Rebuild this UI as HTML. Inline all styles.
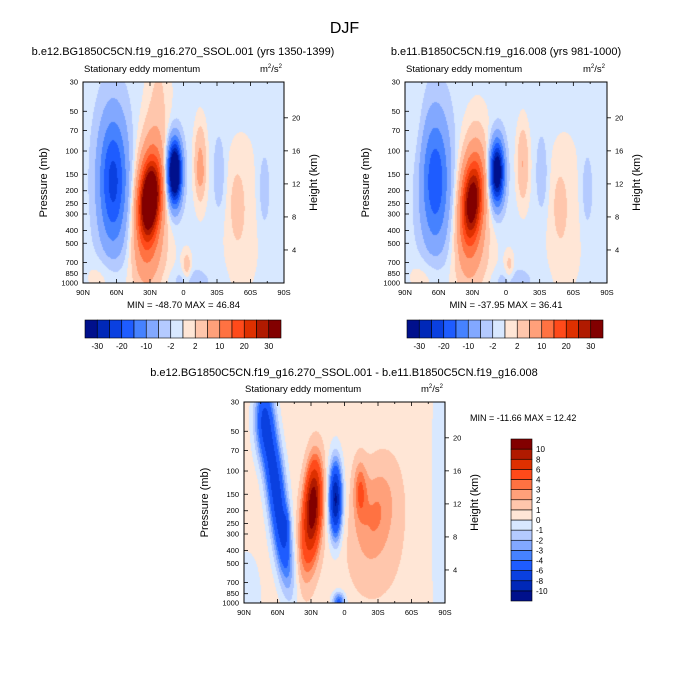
<!DOCTYPE html>
<html><head><meta charset="utf-8"><style>
body{margin:0;background:#fff;width:689px;height:688px;overflow:hidden;position:relative;font-family:"Liberation Sans",sans-serif}
canvas{position:absolute}
svg{position:absolute;left:0;top:0}
</style></head><body>
<canvas id="c1" width="201" height="201" style="left:83px;top:82px"></canvas>
<canvas id="c2" width="202" height="201" style="left:405px;top:82px"></canvas>
<canvas id="c3" width="201" height="201" style="left:244px;top:402px"></canvas>
<svg id="ov" width="689" height="688" font-family="Liberation Sans, sans-serif"></svg>
<script>
const palette=["#00108c","#0028b8","#0a40e0","#1e5cff","#4682ff","#82a8ff","#b4caff","#d8e8ff","#ffe6d6","#ffc6ac","#ffa07a","#ff7242","#ff4a1a","#de3000","#b01a00","#820000"];
const levels1=[-30,-25,-20,-15,-10,-5,-2,0,2,5,10,15,20,25,30];
const levels3=[-10,-8,-6,-4,-3,-2,-1,0,1,2,3,4,6,8,10];
const cbLabels1=["-30","-20","-10","-2","2","10","20","30"];
const cbLabels3=["-10","-8","-6","-4","-3","-2","-1","0","1","2","3","4","6","8","10"];
const pTicks=[30,50,70,100,150,200,250,300,400,500,700,850,1000];
const hTicks=[4,8,12,16,20];
const latTicks=[90,60,30,0,-30,-60,-90];
// blobs: [lat, pressure(mb), amplitude, sigmaLat, sigmaLnP, tilt]
const blobs1=[[63,170,-21,9,0.8,0],[30,230,35,6,0.42,-3],[31,250,16,9,0.85,-3],[8,145,-50,4.2,0.36,0],[-15,125,7,4,0.5,0],[-15,150,4,1.8,0.12,0],[-32,150,-4,3.5,0.45,0],[-48,260,3,4,0.4,0],[-72,200,-3,4,0.5,0],[-52,300,2.3,14,1.1,0],[-3,760,5,3,0.2,0],[-5,960,-3,12,0.15,0],[22,30,2.5,8,0.7,0],[25,650,3,12,0.6,0],[70,900,2.5,12,0.25,0]];
const base1=-1;
const blobs2=[[63,170,-18,9,0.8,0],[30,240,26,6,0.45,-3],[31,250,12,9,0.85,-3],[8,145,-40,4.2,0.36,0],[-15,125,6,4,0.5,0],[-32,150,-4,3.5,0.45,0],[-48,260,2.5,4,0.4,0],[-72,200,-3,4,0.5,0],[-52,300,2.3,14,1.1,0],[-3,760,4,3,0.2,0],[-5,960,-3,12,0.15,0],[80,60,1.5,6,0.8,0],[25,650,3,12,0.6,0],[70,900,2.5,12,0.25,0]];
const base2=-1;
const blobs3=[[72,40,-5.5,6,0.45,0],[64,90,-6,6,0.6,5],[56,300,-6.5,6,0.7,6],[52,260,-2,2,0.2,0],[28,170,9,5,0.5,-2],[32,300,4,7,0.6,-4],[8,165,-11,4,0.45,0],[-14,140,3,4,0.35,0],[-28,210,2.2,12,0.6,-6],[-30,400,0.6,25,1.0,0],[5,980,-5,4,0.12,0],[-85,200,-1.5,5,2.0,0],[88,900,-1.2,10,0.6,0]];
const base3=0.5;

const LNP=Math.log(1000/30);
function field(blobs,base,lat,z){let v=base;for(const b of blobs){const zc=Math.log(1000/b[1]);const lc=b[0]+b[5]*(z-zc);const dx=(lat-lc)/b[3],dz=(z-zc)/b[4];v+=b[2]*Math.exp(-0.5*(dx*dx+dz*dz));}return v;}
function draw(id,blobs,base,levels){const c=document.getElementById(id),ctx=c.getContext('2d');const W=c.width,H=c.height;for(let px=0;px<W;px++)for(let py=0;py<H;py++){const lat=90-180*(px+0.5)/W,z=LNP*(1-(py+0.5)/H);const v=field(blobs,base,lat,z);let k=0;while(k<levels.length&&v>=levels[k])k++;ctx.fillStyle=palette[k];ctx.fillRect(px,py,1,1);}}
draw('c1',blobs1,base1,levels1);draw('c2',blobs2,base2,levels1);draw('c3',blobs3,base3,levels3);

const ov=document.getElementById('ov');const NS='http://www.w3.org/2000/svg';
function el(t,a,txt){const e=document.createElementNS(NS,t);for(const k in a)e.setAttribute(k,a[k]);if(txt!==undefined)e.textContent=txt;ov.appendChild(e);return e;}
function text(x,y,s,size,anchor,name,rot){const a={x:x,y:y,'font-size':size,'text-anchor':anchor||'start',fill:'#000'};if(rot)a.transform='rotate(-90 '+x+' '+y+')';const e=el('text',a,s);return e;}
function panel(X,Y,W,H,pref,title,titleX,titleY,minmax){
  const f=el('rect',{x:X,y:Y,width:W,height:H,fill:'none',stroke:'#000','stroke-width':1});
  
  text(titleX,titleY,title,11,'middle',pref+'-title');
  text(X+1,Y-10,'Stationary eddy momentum',9.5,'start',pref+'-subtitle');
  const u=text(X+W-2,Y-10,'',9.5,'end',pref+'-units');
  const t1=document.createElementNS(NS,'tspan');t1.textContent='m';u.appendChild(t1);const t2=document.createElementNS(NS,'tspan');t2.setAttribute('font-size','6');t2.setAttribute('dy','-4');t2.textContent='2';u.appendChild(t2);const t3=document.createElementNS(NS,'tspan');t3.setAttribute('dy','4');t3.textContent='/s';u.appendChild(t3);const t4=document.createElementNS(NS,'tspan');t4.setAttribute('font-size','6');t4.setAttribute('dy','-4');t4.textContent='2';u.appendChild(t4);
  for(const p of pTicks){const y=Y+H*(1-Math.log(1000/p)/LNP);const l=el('line',{x1:X,x2:X+4,y1:y,y2:y,stroke:'#000','stroke-width':0.8});text(X-5,y+2.5,String(p),7.5,'end','pressure-tick-label');}
  for(const h of hTicks){const y=Y+H*(1-(h/6.94)/LNP);const l=el('line',{x1:X+W,x2:X+W+4,y1:y,y2:y,stroke:'#000','stroke-width':0.8});text(X+W+8,y+2.5,String(h),7.5,'start','height-tick-label');}
  for(let lat=90;lat>=-90;lat-=15){const x=X+W*(90-lat)/180;const major=lat%30===0;const l=el('line',{x1:x,x2:x,y1:Y+H,y2:Y+H-(major?4:2),stroke:'#000','stroke-width':0.8});const l2=el('line',{x1:x,x2:x,y1:Y,y2:Y+(major?4:2),stroke:'#000','stroke-width':0.8});}
  for(const lat of latTicks){const x=X+W*(90-lat)/180;const s=lat===0?'0':(Math.abs(lat)+(lat>0?'N':'S'));text(x,Y+H+12,s,7.5,'middle','lat-tick-label');}
  text(X-36,Y+H/2,'Pressure (mb)',11,'middle','y-axis-title',true);
  text(X+W+33,Y+H/2,'Height (km)',11,'middle','y2-axis-title',true);
  if(minmax)text(X+W/2,Y+H+25,minmax,9.5,'middle','min-max-label');
}
text(344.5,33,'DJF',16,'middle','main-title');
panel(83,82,201,201,'panel1','b.e12.BG1850C5CN.f19_g16.270_SSOL.001 (yrs 1350-1399)',183,55,'MIN = -48.70  MAX =  46.84');
panel(405,82,202,201,'panel2','b.e11.B1850C5CN.f19_g16.008 (yrs 981-1000)',506,55,'MIN = -37.95  MAX =  36.41');
panel(244,402,201,201,'panel3','b.e12.BG1850C5CN.f19_g16.270_SSOL.001 - b.e11.B1850C5CN.f19_g16.008',344,376,null);
text(470,421,'MIN = -11.66  MAX =  12.42',9,'start','diff-min-max-label');
function hbar(X,Y,W,H,name){const bw=W/16;for(let i=0;i<16;i++){const r=el('rect',{x:X+i*bw,y:Y,width:bw,height:H,fill:palette[i],stroke:'#000','stroke-width':0.6});}
 for(let j=0;j<cbLabels1.length;j++){const x=X+(2*j+1)*bw;text(x,Y+H+11,cbLabels1[j],8,'middle',name+'-label');}}
hbar(85,320,196,18,'colorbar-1');hbar(407,320,196,18,'colorbar-2');
(function(){const X=511,Y=439,W=21,H=162,bh=H/16;for(let i=0;i<16;i++){const r=el('rect',{x:X,y:Y+(15-i)*bh,width:W,height:bh,fill:palette[i],stroke:'#000','stroke-width':0.6});}
 for(let j=0;j<cbLabels3.length;j++){const y=Y+(15-j)*bh;text(X+W+4,y+3,cbLabels3[j],8,'start','colorbar-diff-label');}})();
</script>
</body></html>
